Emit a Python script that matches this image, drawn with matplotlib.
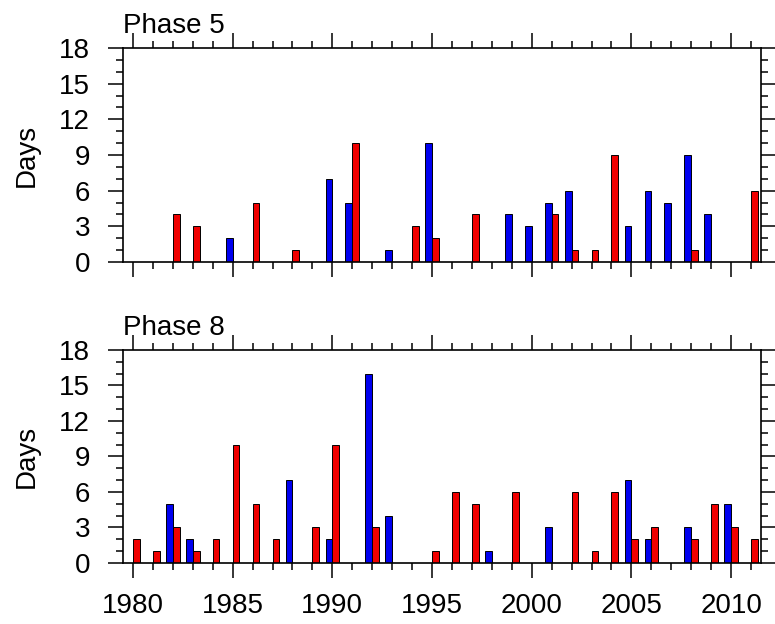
import matplotlib
matplotlib.use('Agg')
import matplotlib.pyplot as plt
import numpy as np
from matplotlib.ticker import MultipleLocator

plt.rcParams['font.family'] = ['Liberation Sans', 'DejaVu Sans']

years = np.arange(1980, 2012)

# Phase 5 (top panel)
p5_blue = [0, 0, 0, 0, 0, 2, 0, 0, 0, 0, 7, 5, 0, 1, 0, 10,
           0, 0, 0, 4, 3, 5, 6, 0, 0, 3, 6, 5, 9, 4, 0, 0]
p5_red = [0, 0, 4, 3, 0, 0, 5, 0, 1, 0, 0, 10, 0, 0, 3, 2,
          0, 4, 0, 0, 0, 4, 1, 1, 9, 0, 0, 0, 1, 0, 0, 6]

# Phase 8 (bottom panel)
p8_blue = [0, 0, 5, 2, 0, 0, 0, 0, 7, 0, 2, 0, 16, 4, 0, 0,
           0, 0, 1, 0, 0, 3, 0, 0, 0, 7, 2, 0, 3, 0, 5, 0]
p8_red = [2, 1, 3, 1, 2, 10, 5, 2, 0, 3, 10, 0, 3, 0, 0, 1,
          6, 5, 0, 6, 0, 0, 6, 1, 6, 2, 3, 0, 2, 5, 3, 2]

panels = [('Phase 5', p5_blue, p5_red), ('Phase 8', p8_blue, p8_red)]

fig = plt.figure(figsize=(7.75, 6.24), dpi=100)
rects = [[0.1587, 0.5801, 0.8232, 0.343], [0.1587, 0.0978, 0.8232, 0.3413]]

fs = 20
bw = 0.34
for i, (name, blue, red) in enumerate(panels):
    ax = fig.add_axes(rects[i])
    blue = np.array(blue)
    red = np.array(red)
    mb = blue > 0
    mr = red > 0
    ax.bar(years[mb], blue[mb], width=-bw, align='edge', color='#0000f0',
           edgecolor='black', linewidth=0.7)
    ax.bar(years[mr], red[mr], width=bw, align='edge', color='#f00000',
           edgecolor='black', linewidth=0.7)
    ax.set_xlim(1979.5, 2011.5)
    ax.set_ylim(0, 18)
    ax.xaxis.set_major_locator(MultipleLocator(5))
    ax.xaxis.set_minor_locator(MultipleLocator(1))
    ax.yaxis.set_major_locator(MultipleLocator(3))
    ax.yaxis.set_minor_locator(MultipleLocator(1))
    ax.tick_params(which='both', direction='out', top=True, right=True,
                   width=1.1, labelsize=fs)
    ax.tick_params(which='major', length=10.8)
    ax.tick_params(which='minor', length=5)
    ax.tick_params(axis='y', which='major', pad=13)
    ax.tick_params(axis='x', which='major', pad=11)
    for s in ax.spines.values():
        s.set_linewidth(1.2)
    if i == 0:
        ax.tick_params(axis='x', labelbottom=False)
    ax.annotate(name, xy=(0, 1), xycoords='axes fraction', xytext=(0, 11),
                textcoords='offset points', ha='left', va='baseline', fontsize=fs)
    r = rects[i]
    fig.text(0.034, r[1] + r[3] / 2, 'Days', rotation=90, ha='center',
             va='center', fontsize=fs)

fig.savefig('out.png', dpi=100)
